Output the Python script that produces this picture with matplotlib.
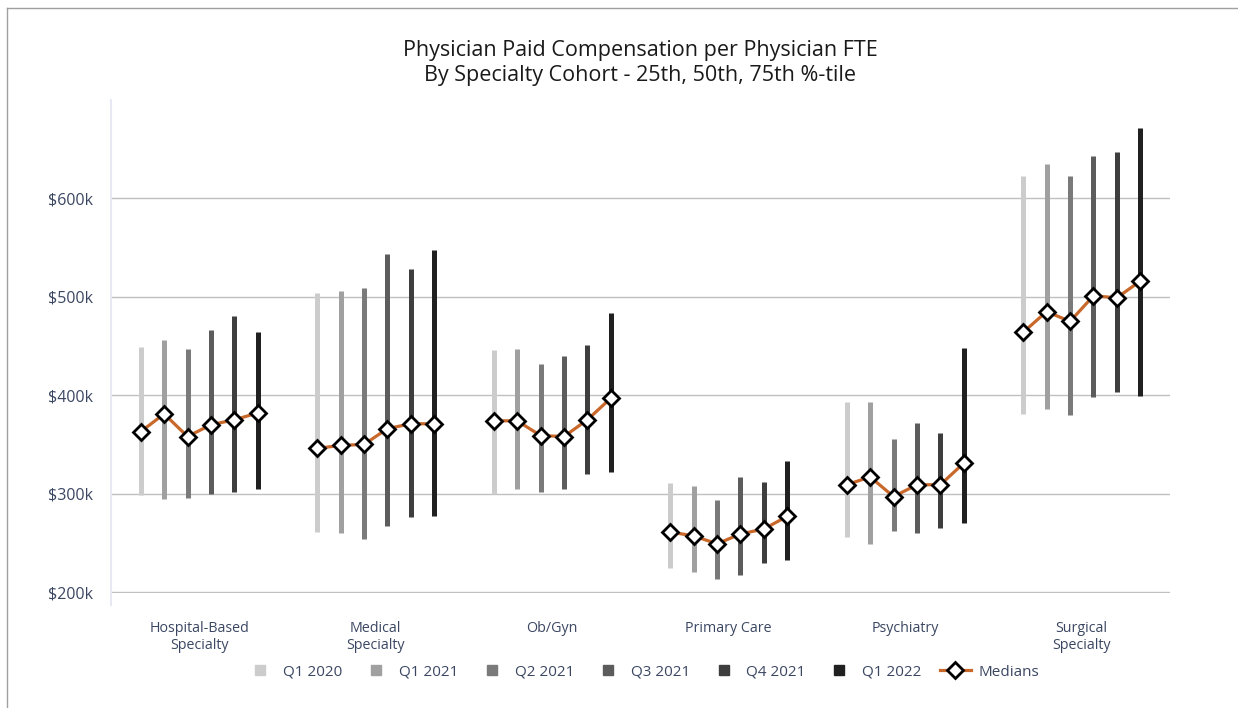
import matplotlib.pyplot as plt
from matplotlib.lines import Line2D
import numpy as np

plt.rcParams['font.family'] = ['Open Sans', 'DejaVu Sans']

categories = ['Hospital-Based\nSpecialty', 'Medical\nSpecialty', 'Ob/Gyn',
              'Primary Care', 'Psychiatry', 'Surgical\nSpecialty']
periods = ['Q1 2020', 'Q1 2021', 'Q2 2021', 'Q3 2021', 'Q4 2021', 'Q1 2022']

# values in $k, rows = categories, columns = periods
p25 = [
    [299, 295, 296, 300, 302, 305],
    [261, 260, 254, 267, 276, 277],
    [300, 305, 302, 305, 320, 322],
    [224, 220, 213, 217, 229, 233],
    [256, 249, 262, 260, 265, 270],
    [381, 386, 380, 398, 403, 399],
]
p50 = [
    [363, 381, 358, 370, 375, 382],
    [346, 349, 350, 366, 371, 371],
    [374, 374, 359, 358, 375, 397],
    [261, 257, 249, 259, 264, 277],
    [309, 317, 297, 309, 309, 331],
    [464, 485, 475, 501, 499, 516],
]
p75 = [
    [449, 456, 447, 466, 481, 464],
    [504, 506, 509, 543, 528, 548],
    [446, 447, 432, 440, 451, 484],
    [311, 308, 294, 317, 312, 333],
    [393, 393, 355, 372, 362, 448],
    [623, 635, 623, 643, 647, 672],
]
yticks = [200, 300, 400, 500, 600]

bar_colors = ['#cccccc', '#a0a0a0', '#7a7a7a', '#5c5c5c', '#3e3e3e', '#202020']
median_color = '#c9682b'
text_color = '#3b4762'

fig = plt.figure(figsize=(12.38, 7.08), dpi=100)
ax = fig.add_axes([111 / 1238, 1 - 593 / 708, 1059 / 1238, 493 / 708])

x = np.arange(len(categories))
step = 0.1326
offsets = (np.arange(len(periods)) - 2.5) * step

for j, per in enumerate(periods):
    lo = [row[j] for row in p25]
    hi = [row[j] for row in p75]
    ax.vlines(x + offsets[j], lo, hi, colors=bar_colors[j], linewidth=3.6,
              zorder=3)

for i in range(len(categories)):
    ax.plot(x[i] + offsets, p50[i], color=median_color, linewidth=2.3,
            marker='D', markersize=8, markerfacecolor='white',
            markeredgecolor='black', markeredgewidth=2, zorder=4)

ax.set_xlim(-0.5, len(categories) - 0.5)
ax.set_ylim(199, 700)
ax.set_yticks(yticks)
ax.set_yticklabels(['$%dk' % v for v in yticks])
ax.set_xticks(x)
ax.set_xticklabels(categories, linespacing=1.2)
ax.grid(axis='y', color='#c0c0c0', linewidth=1)
ax.set_axisbelow(True)
for s in ax.spines.values():
    s.set_visible(False)
ax.tick_params(axis='y', length=0, pad=13, labelsize=11.5, labelcolor=text_color)
ax.tick_params(axis='x', length=0, pad=20, labelsize=10.3, labelcolor=text_color)

# light y axis line, running a bit below the plot
ax.add_line(Line2D([0, 0], [-0.025, 1], transform=ax.transAxes,
                   color='#e6e9f4', linewidth=1.5, clip_on=False))

ax.set_title('Physician Paid Compensation per Physician FTE\n'
             'By Specialty Cohort - 25th, 50th, 75th %-tile',
             fontsize=15.5, color='#1a1a1a', linespacing=1.22, pad=14,
             x=0.5)

handles = [Line2D([], [], linestyle='none', marker='s', markersize=7,
                  color=c) for c in bar_colors]
handles.append(Line2D([], [], color=median_color, linewidth=2.3, marker='D',
                      markersize=8, markerfacecolor='white',
                      markeredgecolor='black', markeredgewidth=2))
leg = fig.legend(handles, periods + ['Medians'], loc='center',
                 bbox_to_anchor=(642 / 1238, 1 - 672 / 708), ncol=7,
                 frameon=False, fontsize=11, handlelength=2.0,
                 handletextpad=0.5, columnspacing=1.2)
for t in leg.get_texts():
    t.set_color(text_color)

# frame edges of the original picture
fig.add_artist(Line2D([6.5 / 1238, 6.5 / 1238], [0, 1 - 8 / 708],
                      color='#a0a0a0', linewidth=1))
fig.add_artist(Line2D([6.5 / 1238, 1], [1 - 8 / 708, 1 - 8 / 708],
                      color='#a0a0a0', linewidth=1))

fig.savefig('out.png', dpi=100)
